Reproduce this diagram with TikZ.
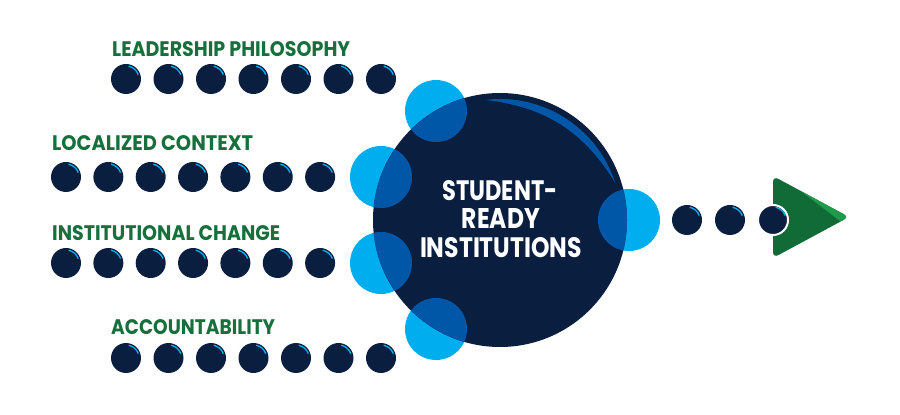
\documentclass[tikz,border=0pt]{standalone}
\usepackage{fontspec}
\setmainfont{Poppins}
\usepackage{graphicx}
\definecolor{navy}{HTML}{0A1F40}
\definecolor{cyanc}{HTML}{00AEEF}
\definecolor{midblue}{HTML}{0057A8}
\definecolor{labgreen}{HTML}{17703C}
\definecolor{trigreen}{HTML}{116B37}
\definecolor{trilight}{HTML}{1F9A4A}
\newcommand{\fittext}[3]{\resizebox{#1}{#2}{#3}}
\begin{document}
\begin{tikzpicture}[x=1pt,y=1pt,
 dotc/.style={circle, fill=navy, minimum size=30pt, inner sep=0pt,
   path picture={\draw[cyanc, line width=1.3pt] ([shift={(20:13pt)}]path picture bounding box.center) arc[start angle=20, end angle=78, radius=13pt];}},
 lab/.style={anchor=north west, inner sep=0pt, text=labgreen, font=\bfseries},
 ctext/.style={anchor=north, inner sep=0pt, text=white, font=\bfseries},
 bub/.style={circle, minimum size=62pt, inner sep=0pt}]
\useasboundingbox (0,0) rectangle (900,415);
% labels
\node[lab] (l1) at (112,374) {\fittext{238pt}{15pt}{LEADERSHIP PHILOSOPHY}};
\node[lab] (l2) at (52,280) {\fittext{201pt}{15pt}{LOCALIZED CONTEXT}};
\node[lab] (l3) at (52,190) {\fittext{228pt}{15pt}{INSTITUTIONAL CHANGE}};
\node[lab] (l4) at (111,96) {\fittext{164pt}{15pt}{ACCOUNTABILITY}};
% dot rows
\foreach \i in {0,...,6} {
  \node[dotc] (a\i) at (126+42.5*\i,336) {};
  \node[dotc] (b\i) at (66+42.35*\i,238) {};
  \node[dotc] (c\i) at (66+42.35*\i,152) {};
  \node[dotc] (d\i) at (126+42.5*\i,57) {};
}
% light bubbles
\foreach \n/\p in {t/{(436,304)}, u/{(381,238)}, w/{(381,152)}, b/{(436,86)}, r/{(629,195)}}
  \node[bub, fill=cyanc] (s\n) at \p {};
% big circle
\node[circle, fill=navy, minimum size=254pt, inner sep=0pt] (big) at (500,195) {};
\begin{scope}
  \clip (500,195) circle[radius=127pt];
  \foreach \p in {(436,304), (381,238), (381,152), (436,86), (629,195)}
    \fill[midblue] \p circle[radius=31pt];
\end{scope}
% crescent highlight
\fill[midblue] ([shift={(97:121pt)}]big.center) arc[start angle=97, end angle=18, radius=121pt] to[bend right=26] ([shift={(97:121pt)}]big.center) -- cycle;
% centre text
\node[ctext] (t1) at (500,235) {\fittext{115pt}{20pt}{STUDENT-}};
\node[ctext] (t2) at (501,207) {\fittext{78pt}{20pt}{READY}};
\node[ctext] (t3) at (501,178) {\fittext{162pt}{20pt}{INSTITUTIONS}};
% arrow triangle
\fill[trigreen, rounded corners=6pt] (773,239) -- (849,198) -- (773,157) -- cycle;
\begin{scope}
  \clip[rounded corners=6pt] (773,239) -- (849,198) -- (773,157) -- cycle;
  \fill[trilight] (778,246) -- (862,198) -- (840,194) -- (785,236) -- cycle;
\end{scope}
% right dots
\node[dotc] (r1) at (687,195) {};
\node[dotc] (r2) at (730,195) {};
\node[dotc, draw=white, line width=2pt] (r3) at (773,195) {};
\end{tikzpicture}
\end{document}
